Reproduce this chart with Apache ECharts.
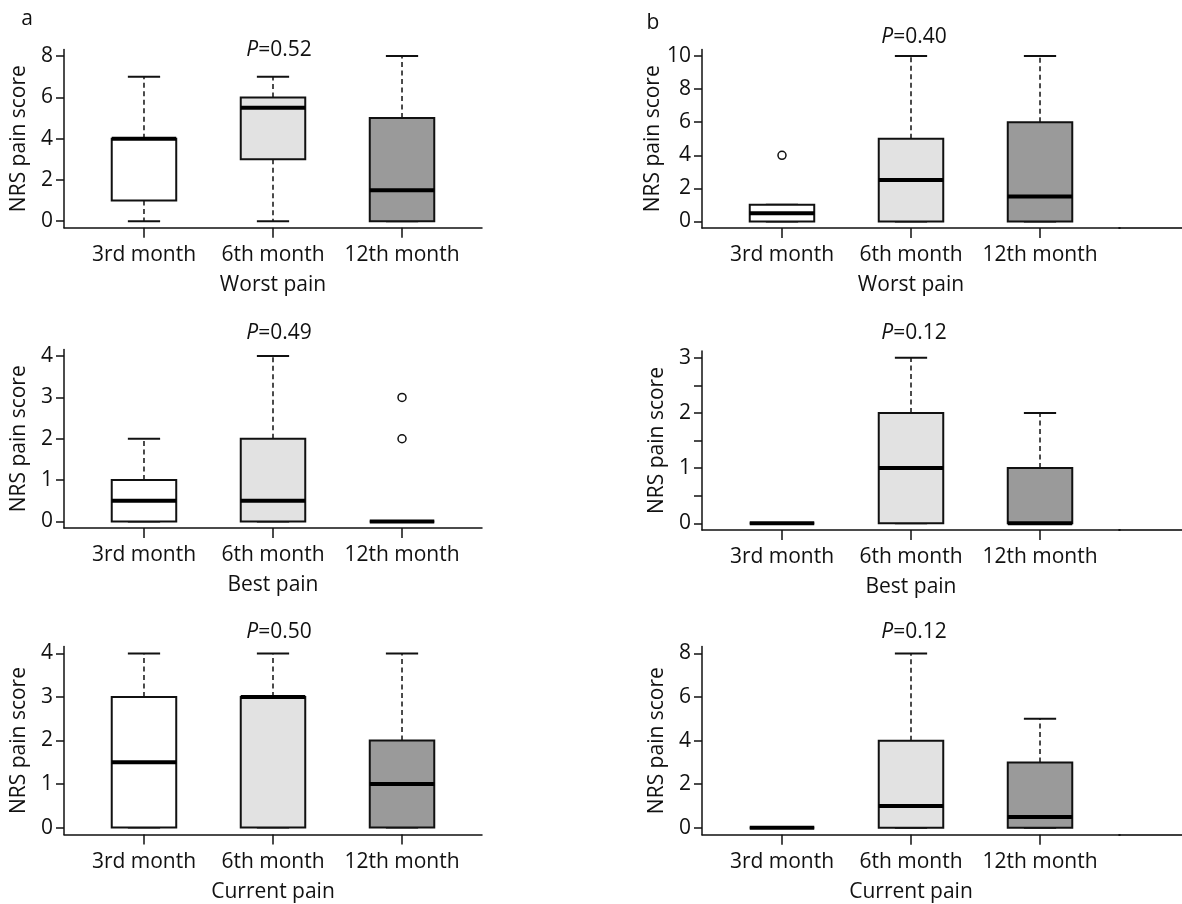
<!DOCTYPE html>
<html><head><meta charset="utf-8">
<script src="https://cdn.jsdelivr.net/npm/echarts@6/dist/echarts.min.js"></script>
<style>html,body{margin:0;padding:0;background:#fff}#c{width:1182px;height:904px}</style>
</head><body><div id="c"></div>
<script>
// ---------- data ----------
const categories = ['3rd month', '6th month', '12th month'];
const categoryPositions = [1, 2, 3];
const painTypes = ['Worst pain', 'Best pain', 'Current pain'];
const panelLetters = ['a', 'b'];
const pValuesA = ['0.52', '0.49', '0.50'];
const pValuesB = ['0.40', '0.12', '0.12'];

// five-number summaries [min, Q1, median, Q3, max] per category
const worstA   = [[0, 1, 4, 4, 7], [0, 3, 5.5, 6, 7], [0, 0, 1.5, 5, 8]];
const bestA    = [[0, 0, 0.5, 1, 2], [0, 0, 0.5, 2, 4], [0, 0, 0, 0, 0]];
const currentA = [[0, 0, 1.5, 3, 4], [0, 0, 3, 3, 4], [0, 0, 1, 2, 4]];
const worstB   = [[0, 0, 0.5, 1, 1], [0, 0, 2.5, 5, 10], [0, 0, 1.5, 6, 10]];
const bestB    = [[0, 0, 0, 0, 0], [0, 0, 1, 2, 3], [0, 0, 0, 1, 2]];
const currentB = [[0, 0, 0, 0, 0], [0, 0, 1, 4, 8], [0, 0, 0.5, 3, 5]];

// outliers [category position, value]
const outliersWorstA = [];
const outliersBestA = [[3, 2], [3, 3]];
const outliersCurrentA = [];
const outliersWorstB = [[1, 4]];
const outliersBestB = [];
const outliersCurrentB = [];

// y tick values and labels
const yTicksWorstA = [0, 2, 4, 6, 8];
const yTicksBestA = [0, 1, 2, 3, 4];
const yTicksCurrentA = [0, 1, 2, 3, 4];
const yTicksWorstB = [0, 2, 4, 6, 8, 10];
const yTicksBestB = [0, 0.5, 1, 1.5, 2, 2.5, 3];
const yLabelsBestB = [0, 1, 2, 3];
const yTicksCurrentB = [0, 2, 4, 6, 8];

// ---------- layout / style ----------
const FONT = 'Open Sans';
const INK = '#111';
const FS = 21;
const BOX_FILLS = ['#ffffff', '#e2e2e2', '#9a9a9a'];
const BOX_HALF = 0.25, CAP_HALF = 0.125;

const colLayout = [
  { left: 64, width: 418, xMin: 0.38, xMax: 3.62, pX: 274, ext: 0 },
  { left: 702, width: 418, xMin: 0.38, xMax: 3.62, pX: 909, ext: 62 }
];
const rowLayout = [
  [{ top: 49.5, height: 178.3, pY: 45 }, { top: 49.5, height: 178.5, pY: 32 }],
  [{ top: 349.5, height: 178.5, pY: 328.5 }, { top: 351, height: 179, pY: 328.5 }],
  [{ top: 646.5, height: 188, pY: 627 }, { top: 646.5, height: 188.3, pY: 627 }]
];

const panels = [
  { col: 0, row: 0, stats: worstA, out: outliersWorstA, ticks: yTicksWorstA, labels: yTicksWorstA, p: pValuesA[0] },
  { col: 1, row: 0, stats: worstB, out: outliersWorstB, ticks: yTicksWorstB, labels: yTicksWorstB, p: pValuesB[0] },
  { col: 0, row: 1, stats: bestA, out: outliersBestA, ticks: yTicksBestA, labels: yTicksBestA, p: pValuesA[1] },
  { col: 1, row: 1, stats: bestB, out: outliersBestB, ticks: yTicksBestB, labels: yLabelsBestB, p: pValuesB[1] },
  { col: 0, row: 2, stats: currentA, out: outliersCurrentA, ticks: yTicksCurrentA, labels: yTicksCurrentA, p: pValuesA[2] },
  { col: 1, row: 2, stats: currentB, out: outliersCurrentB, ticks: yTicksCurrentB, labels: yTicksCurrentB, p: pValuesB[2] }
];

function renderBox(params, api) {
  const x = api.value(0);
  const mn = api.value(1), q1 = api.value(2), md = api.value(3), q3 = api.value(4), mx = api.value(5);
  const pMin = api.coord([x, mn]), pQ1 = api.coord([x, q1]), pMed = api.coord([x, md]);
  const pQ3 = api.coord([x, q3]), pMax = api.coord([x, mx]);
  const bl = api.coord([x - BOX_HALF, md])[0], br = api.coord([x + BOX_HALF, md])[0];
  const cl = api.coord([x - CAP_HALF, md])[0], cr = api.coord([x + CAP_HALF, md])[0];
  const dash = { stroke: INK, lineWidth: 1.5, lineDash: [5, 3.5] };
  const solid = { stroke: INK, lineWidth: 2 };
  return {
    type: 'group',
    children: [
      { type: 'line', shape: { x1: pQ3[0], y1: pQ3[1], x2: pMax[0], y2: pMax[1] }, style: dash },
      { type: 'line', shape: { x1: pQ1[0], y1: pQ1[1], x2: pMin[0], y2: pMin[1] }, style: dash },
      { type: 'line', shape: { x1: cl, y1: pMax[1], x2: cr, y2: pMax[1] }, style: solid },
      { type: 'line', shape: { x1: cl, y1: pMin[1], x2: cr, y2: pMin[1] }, style: solid },
      { type: 'rect', shape: { x: bl, y: pQ3[1], width: br - bl, height: pQ1[1] - pQ3[1] },
        style: { fill: BOX_FILLS[params.dataIndex], stroke: INK, lineWidth: 2 } },
      { type: 'line', shape: { x1: bl, y1: pMed[1], x2: br, y2: pMed[1] }, style: { stroke: '#000', lineWidth: 4 } }
    ]
  };
}

const grid = [], xAxis = [], yAxis = [], series = [], title = [];
const txt = { fontFamily: FONT, fontSize: FS, color: INK };

panels.forEach((pn, i) => {
  const c = colLayout[pn.col], r = rowLayout[pn.row][pn.col];
  grid.push({ left: c.left, width: c.width, top: r.top, height: r.height, outerBoundsMode: 'none', containLabel: false });
  const all = pn.stats.flat().concat(pn.out.map(o => o[1]));
  const dMin = Math.min(...all), dMax = Math.max(...all);
  const pad = 0.04 * (dMax - dMin);
  xAxis.push({
    gridIndex: i, type: 'value', min: c.xMin, max: c.xMax,
    axisLine: { show: true, onZero: false, lineStyle: { color: INK, width: 1.5 } },
    axisTick: { show: true, customValues: categoryPositions, length: 10, lineStyle: { color: INK, width: 1.5 } },
    axisLabel: { customValues: categoryPositions, formatter: v => categories[categoryPositions.indexOf(v)], margin: 17, ...txt },
    splitLine: { show: false },
    name: painTypes[pn.row], nameLocation: 'middle', nameGap: 47, nameTextStyle: txt
  });
  yAxis.push({
    gridIndex: i, type: 'value', min: dMin - pad, max: dMax + pad,
    axisLine: { show: true, onZero: false, lineStyle: { color: INK, width: 1.5 } },
    axisTick: { show: true, customValues: pn.ticks, length: 8, lineStyle: { color: INK, width: 1.5 } },
    axisLabel: { customValues: pn.labels, margin: 11, ...txt },
    splitLine: { show: false },
    name: 'NRS pain score', nameLocation: 'middle', nameGap: 34, nameTextStyle: txt
  });
  series.push({
    type: 'custom', xAxisIndex: i, yAxisIndex: i, clip: false,
    encode: { x: 0, y: [1, 2, 3, 4, 5] },
    data: categoryPositions.map((pos, k) => [pos, ...pn.stats[k]]),
    renderItem: renderBox, silent: true
  });
  if (pn.out.length) {
    series.push({
      type: 'scatter', xAxisIndex: i, yAxisIndex: i, data: pn.out,
      symbol: 'circle', symbolSize: 8,
      itemStyle: { color: '#fff', borderColor: INK, borderWidth: 1.5, opacity: 1 }, silent: true
    });
  }
  title.push({
    text: '{i|P}=' + pn.p, left: c.pX, top: r.pY, textAlign: 'center', textVerticalAlign: 'middle',
    textStyle: { ...txt, fontWeight: 'normal', rich: { i: { ...txt, fontStyle: 'italic' } } }
  });
});

// right-hand panels: the bottom frame line runs on to the page edge
panels.forEach((pn) => {
  const c = colLayout[pn.col], r = rowLayout[pn.row][pn.col];
  if (!c.ext) return;
  const gi = grid.length;
  grid.push({ left: c.left + c.width - 1, width: c.ext + 1, top: r.top, height: r.height, outerBoundsMode: 'none', containLabel: false });
  xAxis.push({ gridIndex: gi, type: 'value', min: 0, max: 1,
    axisLine: { show: true, onZero: false, lineStyle: { color: '#000', width: 1.6 } },
    axisTick: { show: false }, axisLabel: { show: false }, splitLine: { show: false } });
  yAxis.push({ gridIndex: gi, type: 'value', min: 0, max: 1,
    axisLine: { show: false }, axisTick: { show: false }, axisLabel: { show: false }, splitLine: { show: false } });
});

title.push({ text: panelLetters[0], left: 22, top: 14, textAlign: 'center', textVerticalAlign: 'middle', textStyle: { ...txt, fontWeight: 'normal' } });
title.push({ text: panelLetters[1], left: 648, top: 18, textAlign: 'center', textVerticalAlign: 'middle', textStyle: { ...txt, fontWeight: 'normal' } });

const chart = echarts.init(document.getElementById('c'), null, { renderer: 'canvas' });
chart.setOption({ animation: false, backgroundColor: '#fff', grid, xAxis, yAxis, series, title });
</script>
</body></html>
